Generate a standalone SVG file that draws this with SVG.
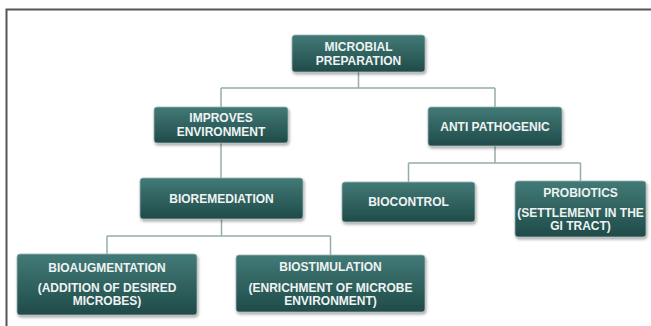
<svg xmlns="http://www.w3.org/2000/svg" width="651" height="326" viewBox="0 0 651 326">
<defs>
<linearGradient id="g" x1="0" y1="0" x2="0" y2="1">
<stop offset="0" stop-color="#427a77"/>
<stop offset="1" stop-color="#1f4b49"/>
</linearGradient>
<filter id="sh" x="-10%" y="-10%" width="125%" height="140%">
<feDropShadow dx="1" dy="2" stdDeviation="1.5" flood-color="#000" flood-opacity="0.35"/>
</filter>
</defs>
<style>
.box{fill:url(#g);stroke:#9fb5b3;stroke-width:0.8;filter:url(#sh)}
.t{font-family:"Liberation Sans",Arial,sans-serif;font-weight:bold;font-size:12px;fill:#eef3f2;text-anchor:middle}
.c{fill:none;stroke:#95adab;stroke-width:1.5}
</style>
<rect width="651" height="326" fill="#fff"/>
<path d="M6.5 326V9.5H651" fill="none" stroke="#555" stroke-width="2"/>
<g id="connectors">
<path class="c" d="M358.5 72V88M221 88H495M221 88V107M495 88V107"/>
<path class="c" d="M221 143V178"/>
<path class="c" d="M221.5 219V236M107 236H330.5M107 236V254M330.5 236V255"/>
<path class="c" d="M495 146V163M408.5 163H580.5M408.5 163V182M580.5 163V181"/>
</g>
<g id="microbial"><rect class="box" x="292" y="35" width="133" height="37" rx="3"/><text class="t" x="358.5" y="51">MICROBIAL</text><text class="t" x="358.5" y="65">PREPARATION</text></g>
<g id="improves"><rect class="box" x="154" y="107" width="134" height="36" rx="3"/><text class="t" x="221" y="122">IMPROVES</text><text class="t" x="221" y="136">ENVIRONMENT</text></g>
<g id="antipathogenic"><rect class="box" x="428" y="107" width="134" height="39" rx="3"/><text class="t" x="495" y="131">ANTI PATHOGENIC</text></g>
<g id="bioremediation"><rect class="box" x="140" y="178" width="163" height="41" rx="3"/><text class="t" x="221.5" y="203">BIOREMEDIATION</text></g>
<g id="biocontrol"><rect class="box" x="342" y="182" width="133" height="40" rx="3"/><text class="t" x="408.5" y="206">BIOCONTROL</text></g>
<g id="probiotics"><rect class="box" x="515" y="181" width="131" height="56" rx="3"/><text class="t" x="580.5" y="197">PROBIOTICS</text><text class="t" x="580.5" y="217">(SETTLEMENT IN THE</text><text class="t" x="580.5" y="230">GI TRACT)</text></g>
<g id="bioaugmentation"><rect class="box" x="17" y="254" width="180" height="61" rx="3"/><text class="t" x="107" y="272">BIOAUGMENTATION</text><text class="t" x="107" y="292">(ADDITION OF DESIRED</text><text class="t" x="107" y="305">MICROBES)</text></g>
<g id="biostimulation"><rect class="box" x="236" y="255" width="189" height="57" rx="3"/><text class="t" x="330.5" y="271">BIOSTIMULATION</text><text class="t" x="330.5" y="292">(ENRICHMENT OF MICROBE</text><text class="t" x="330.5" y="305">ENVIRONMENT)</text></g>
</svg>
